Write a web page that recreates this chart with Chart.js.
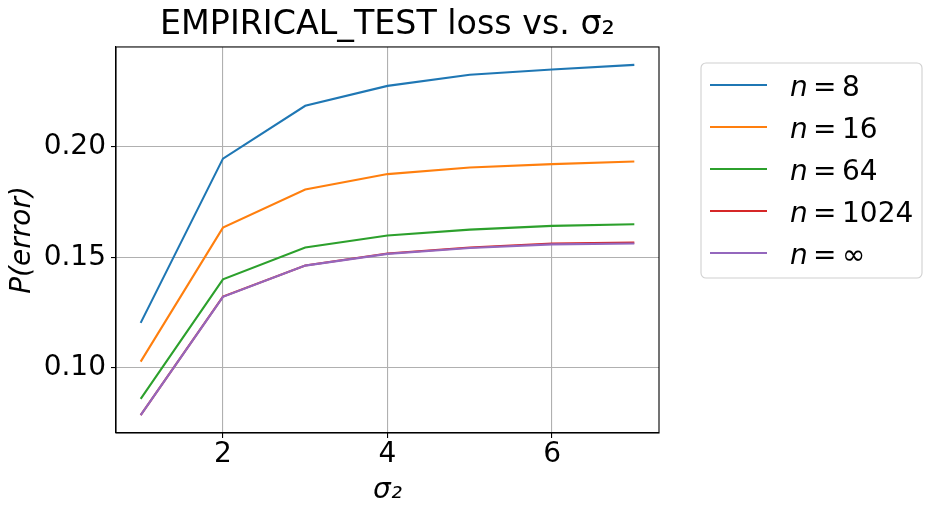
<!DOCTYPE html>
<html>
<head>
<meta charset="utf-8">
<script src="https://cdn.jsdelivr.net/npm/chart.js@4/dist/chart.umd.min.js"></script>
<style>
html,body{margin:0;padding:0;background:#fff;}
canvas{display:block;}
</style>
</head>
<body>
<canvas id="c" width="932" height="514"></canvas>
<script>
const xValues = [1, 2, 3, 4, 5, 6, 7];
const n8    = [0.1204, 0.1947, 0.2186, 0.2276, 0.2326, 0.2350, 0.2371];
const n16   = [0.1029, 0.1635, 0.1807, 0.1877, 0.1907, 0.1922, 0.1934];
const n64   = [0.0860, 0.1401, 0.1545, 0.1599, 0.1626, 0.1643, 0.1650];
const n1024 = [0.0787, 0.1323, 0.1464, 0.1518, 0.1545, 0.1563, 0.1567];
const nInf  = [0.0787, 0.1322, 0.1463, 0.1516, 0.1543, 0.1559, 0.1563];
const legendValues = ['8', '16', '64', '1024', '\u221E'];
const xTicks = [2, 4, 6];
const yTicks = [0.10, 0.15, 0.20];
const titleText = 'EMPIRICAL_TEST loss vs. \u03C3\u2082';
const xTitle = '\u03C3\u2082';
const yTitle = 'P(error)';

const seriesList = [n8, n16, n64, n1024, nInf];
const colors = ['#1f77b4', '#ff7f0e', '#2ca02c', '#d62728', '#9467bd'];
const FONT = "'DejaVu Sans', sans-serif";

const datasets = seriesList.map((s, i) => ({
  label: 'n = ' + legendValues[i],
  data: xValues.map((x, j) => ({x: x, y: s[j]})),
  borderColor: colors[i],
  backgroundColor: colors[i],
  borderWidth: 2.1,
  pointRadius: 0,
  tension: 0,
  fill: false,
  order: seriesList.length - i
}));

const framePlugin = {
  id: 'frame',
  afterDatasetsDraw(chart) {
    const a = chart.chartArea, ctx = chart.ctx;
    ctx.save();
    ctx.strokeStyle = '#000';
    ctx.lineWidth = 1.1;
    ctx.strokeRect(a.left, a.top, a.right - a.left, a.bottom - a.top);
    ctx.restore();
  },
  afterDraw(chart) {
    const ctx = chart.ctx;
    const bx = 701, by = 63, bw = 221, bh = 215, r = 5;
    ctx.save();
    ctx.beginPath();
    ctx.moveTo(bx + r, by);
    ctx.lineTo(bx + bw - r, by);
    ctx.arcTo(bx + bw, by, bx + bw, by + r, r);
    ctx.lineTo(bx + bw, by + bh - r);
    ctx.arcTo(bx + bw, by + bh, bx + bw - r, by + bh, r);
    ctx.lineTo(bx + r, by + bh);
    ctx.arcTo(bx, by + bh, bx, by + bh - r, r);
    ctx.lineTo(bx, by + r);
    ctx.arcTo(bx, by, bx + r, by, r);
    ctx.closePath();
    ctx.fillStyle = 'rgba(255,255,255,0.8)';
    ctx.fill();
    ctx.strokeStyle = '#d0d0d0';
    ctx.lineWidth = 1.1;
    ctx.stroke();
    chart.data.datasets.forEach((ds, i) => {
      const cy = 85 + i * 42;
      ctx.strokeStyle = ds.borderColor;
      ctx.lineWidth = 2.1;
      ctx.beginPath();
      ctx.moveTo(710, cy);
      ctx.lineTo(767, cy);
      ctx.stroke();
      ctx.fillStyle = '#000';
      ctx.textBaseline = 'alphabetic';
      ctx.textAlign = 'left';
      const base = cy + 10.5;
      const parts = ds.label.split(' = ');
      ctx.font = 'italic 28px ' + FONT;
      ctx.fillText(parts[0], 790, base);
      ctx.font = '28px ' + FONT;
      ctx.fillText('=', 813, base);
      ctx.fillText(parts[1], 842, base);
    });
    ctx.restore();
  }
};

new Chart(document.getElementById('c'), {
  type: 'line',
  data: {datasets: datasets},
  plugins: [framePlugin],
  options: {
    responsive: false,
    animation: false,
    devicePixelRatio: 1,
    layout: {padding: {left: 0, right: 273, top: 0, bottom: 0}},
    plugins: {
      legend: {display: false},
      tooltip: {enabled: false},
      title: {
        display: true,
        text: titleText,
        color: '#000',
        fullSize: false,
        font: {family: FONT, size: 33.3, weight: 'normal', lineHeight: 1.2},
        padding: {top: 5.5, bottom: 1.5}
      }
    },
    scales: {
      x: {
        type: 'linear',
        min: 0.7,
        max: 7.3,
        afterBuildTicks(s) { s.ticks = xTicks.map(v => ({value: v})); },
        afterFit(s) { s.height = 81; },
        ticks: {
          color: '#000',
          font: {family: FONT, size: 28},
          padding: 0,
          maxRotation: 0,
          callback: v => String(v)
        },
        grid: {color: '#b0b0b0', lineWidth: 1.1, tickColor: '#000', tickLength: 5, drawTicks: true},
        border: {display: true, color: '#000', width: 1.1},
        title: {
          display: true,
          text: xTitle,
          color: '#000',
          font: {family: FONT, size: 28, style: 'italic'},
          padding: {top: 0, bottom: 6}
        }
      },
      y: {
        type: 'linear',
        min: 0.0706,
        max: 0.2452,
        afterBuildTicks(s) { s.ticks = yTicks.map(v => ({value: v})); },
        afterFit(s) { s.width = 116; },
        ticks: {
          color: '#000',
          font: {family: FONT, size: 28},
          padding: 5,
          callback: v => v.toFixed(2)
        },
        grid: {color: '#b0b0b0', lineWidth: 1.1, tickColor: '#000', tickLength: 5, drawTicks: true},
        border: {display: true, color: '#000', width: 1.1},
        title: {
          display: true,
          text: yTitle,
          color: '#000',
          font: {family: FONT, size: 28, style: 'italic'},
          padding: {top: 6, bottom: 4}
        }
      }
    }
  }
});
</script>
</body>
</html>
